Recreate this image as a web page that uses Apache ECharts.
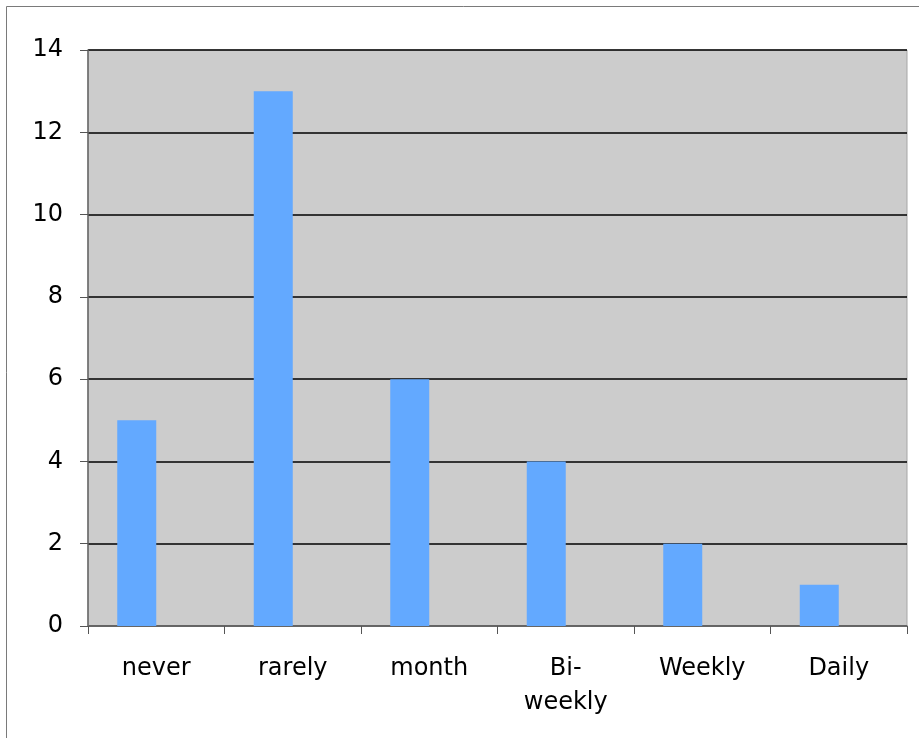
<!DOCTYPE html>
<html>
<head>
<meta charset="utf-8">
<script src="https://cdn.jsdelivr.net/npm/echarts@6/dist/echarts.min.js"></script>
<style>
  html, body { margin: 0; padding: 0; background: #ffffff; }
  #chart { width: 919px; height: 738px; }
</style>
</head>
<body>
<div id="chart"></div>
<script>
// How often: response counts per frequency category
const categories = ['never', 'rarely', 'month', 'Bi-\nweekly', 'Weekly', 'Daily'];
const counts = [5, 13, 6, 4, 2, 1];
const yMin = 0, yMax = 14, yStep = 2;

const font = "'DejaVu Sans', Verdana, sans-serif";
const chart = echarts.init(document.getElementById('chart'), null, { renderer: 'canvas' });

chart.setOption({
  backgroundColor: '#ffffff',
  animation: false,
  graphic: [{
    type: 'rect',
    shape: { x: 6.5, y: 6.5, width: 940, height: 760 },
    style: { fill: 'none', stroke: '#7a7a7a', lineWidth: 1 },
    z: -1
  }],
  grid: {
    left: 88, top: 50, right: 12, bottom: 112,
    show: true,
    backgroundColor: '#cccccc',
    borderColor: '#a6a6a6',
    borderWidth: 1
  },
  xAxis: {
    type: 'category',
    data: categories,
    axisLine: { show: true, lineStyle: { color: '#777777', width: 1.5 } },
    axisTick: { show: true, length: 8, lineStyle: { color: '#555555', width: 1 } },
    axisLabel: {
      color: '#000000', fontFamily: font, fontSize: 24,
      margin: 26, lineHeight: 34, interval: 0
    },
    splitLine: { show: false }
  },
  yAxis: {
    type: 'value',
    min: yMin, max: yMax, interval: yStep,
    axisLine: { show: true, lineStyle: { color: '#666666', width: 1.5 } },
    axisTick: { show: true, length: 8, lineStyle: { color: '#555555', width: 1 } },
    axisLabel: { color: '#000000', fontFamily: font, fontSize: 24, margin: 25 },
    splitLine: { show: true, lineStyle: { color: '#000000', width: 1.5 } }
  },
  series: [
    {
      type: 'bar',
      data: counts,
      barWidth: 39,
      barGap: '0%',
      itemStyle: { color: '#63a9ff' }
    },
    {
      // empty companion series keeps the bars in the left half of each slot
      type: 'bar',
      data: counts.map(() => null),
      barWidth: 39,
      itemStyle: { color: '#63a9ff' }
    }
  ]
});
</script>
</body>
</html>
